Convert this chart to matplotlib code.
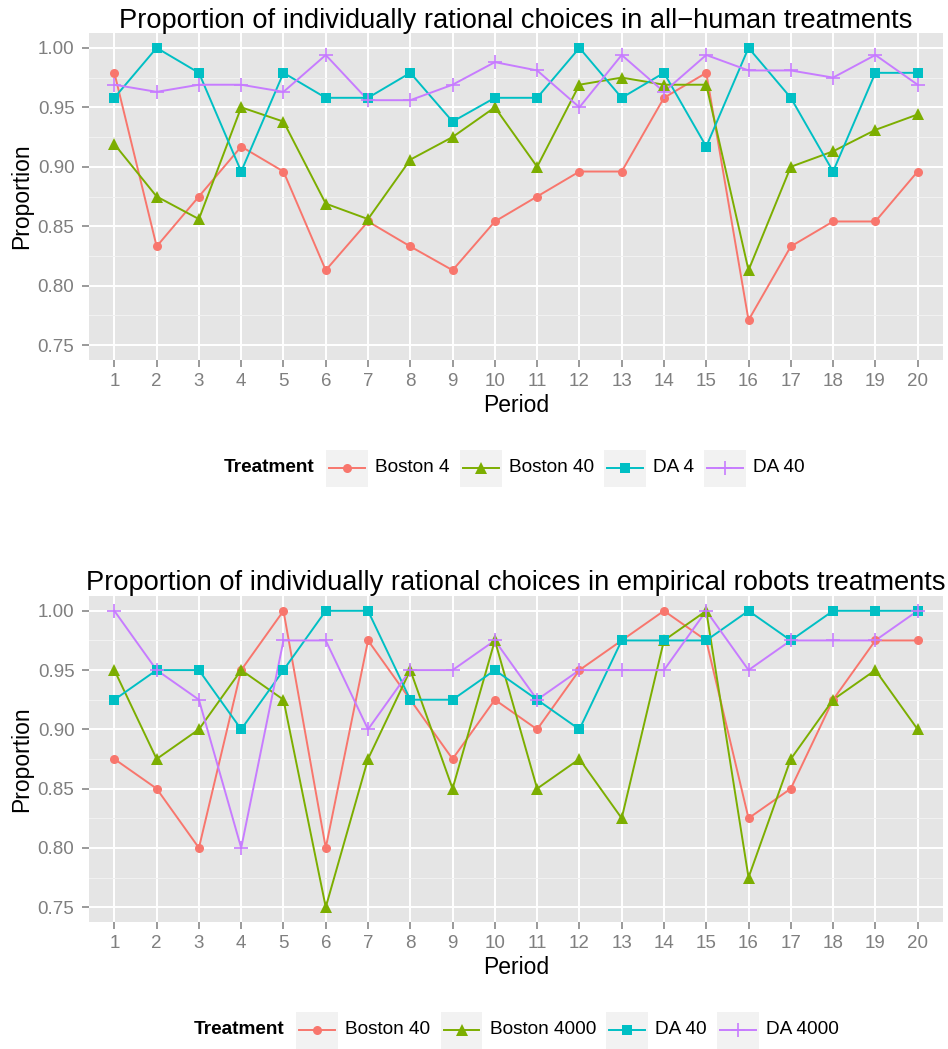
import matplotlib
matplotlib.use("Agg")
import matplotlib.pyplot as plt
from matplotlib.lines import Line2D
from matplotlib.patches import Rectangle
from matplotlib.ticker import MultipleLocator

plt.rcParams['font.family'] = ['Liberation Sans', 'DejaVu Sans']

periods = list(range(1, 21))

# ---- Panel 1: all-human treatments ----
title1 = "Proportion of individually rational choices in all\u2212human treatments"
labels1 = ["Boston 4", "Boston 40", "DA 4", "DA 40"]
boston4 = [0.979, 0.833, 0.875, 0.917, 0.896, 0.813, 0.854, 0.833, 0.813, 0.854,
           0.875, 0.896, 0.896, 0.958, 0.979, 0.771, 0.833, 0.854, 0.854, 0.896]
boston40_h = [0.919, 0.875, 0.856, 0.950, 0.938, 0.869, 0.856, 0.906, 0.925, 0.950,
              0.900, 0.969, 0.975, 0.969, 0.969, 0.813, 0.900, 0.913, 0.931, 0.944]
da4 = [0.958, 1.000, 0.979, 0.896, 0.979, 0.958, 0.958, 0.979, 0.938, 0.958,
       0.958, 1.000, 0.958, 0.979, 0.917, 1.000, 0.958, 0.896, 0.979, 0.979]
da40_h = [0.969, 0.963, 0.969, 0.969, 0.963, 0.994, 0.956, 0.956, 0.969, 0.988,
          0.981, 0.950, 0.994, 0.963, 0.994, 0.981, 0.981, 0.975, 0.994, 0.969]

# ---- Panel 2: empirical robots treatments ----
title2 = "Proportion of individually rational choices in empirical robots treatments"
labels2 = ["Boston 40", "Boston 4000", "DA 40", "DA 4000"]
boston40_r = [0.875, 0.850, 0.800, 0.950, 1.000, 0.800, 0.975, 0.925, 0.875, 0.925,
              0.900, 0.950, 0.975, 1.000, 0.975, 0.825, 0.850, 0.925, 0.975, 0.975]
boston4000 = [0.950, 0.875, 0.900, 0.950, 0.925, 0.750, 0.875, 0.950, 0.850, 0.975,
              0.850, 0.875, 0.825, 0.975, 1.000, 0.775, 0.875, 0.925, 0.950, 0.900]
da40_r = [0.925, 0.950, 0.950, 0.900, 0.950, 1.000, 1.000, 0.925, 0.925, 0.950,
          0.925, 0.900, 0.975, 0.975, 0.975, 1.000, 0.975, 1.000, 1.000, 1.000]
da4000 = [1.000, 0.950, 0.925, 0.800, 0.975, 0.975, 0.900, 0.950, 0.950, 0.975,
          0.925, 0.950, 0.950, 0.950, 1.000, 0.950, 0.975, 0.975, 0.975, 1.000]

yticks = [0.75, 0.80, 0.85, 0.90, 0.95, 1.00]

colors = ["#F8766D", "#7CAE00", "#00BFC4", "#C77CFF"]
markers = ["o", "^", "s", "+"]
msizes = [6.5, 8, 7, 10]

W, H = 948, 1049
fig = plt.figure(figsize=(W / 100, H / 100), dpi=100)


def px_rect(l, t, r, b):
    return [l / W, 1 - b / H, (r - l) / W, (b - t) / H]


GREY = "#7F7F7F"


def draw_panel(ax, title, series, height_px):
    ax.set_facecolor("#E5E5E5")
    for s in ax.spines.values():
        s.set_visible(False)
    ax.set_xlim(0.4, 20.6)
    ax.set_ylim(0.7375, 1.0125)
    ax.set_xticks(periods)
    ax.set_xticklabels([str(p) for p in periods])
    ax.set_yticks(yticks)
    ax.set_yticklabels(["%.2f" % v for v in yticks])
    ax.yaxis.set_minor_locator(MultipleLocator(0.025))
    ax.grid(True, which="major", color="white", lw=1.4, zorder=0)
    ax.grid(True, which="minor", axis="y", color="#F2F2F2", lw=0.7, zorder=0)
    ax.set_axisbelow(True)
    ax.tick_params(axis="both", which="major", colors=GREY, labelcolor=GREY,
                   labelsize=13.5, length=5, width=1.1)
    ax.tick_params(axis="x", pad=4)
    ax.tick_params(axis="y", pad=5.5)
    ax.tick_params(which="minor", length=0)
    for ys, c in zip(series, colors):
        ax.plot(periods, ys, color=c, lw=1.4, zorder=2)
    for ys, c, m, ms in zip(series, colors, markers, msizes):
        ax.plot(periods, ys, linestyle="none", marker=m, markersize=ms,
                color=c, markeredgewidth=1.2 if m == "+" else 0.0, zorder=3)
    ax.set_xlabel("Period", fontsize=16.5, va="center")
    ax.set_ylabel("Proportion", fontsize=16.5, va="center")
    ax.xaxis.set_label_coords(0.5, -45 / height_px)
    ax.yaxis.set_label_coords(-67 / 854, 0.5)
    ax.text(0.5, 1.0 + 5.5 / height_px, title, transform=ax.transAxes,
            ha="center", va="baseline", fontsize=19.6)


ax1 = fig.add_axes(px_rect(89, 33, 943, 360))
draw_panel(ax1, title1, [boston4, boston40_h, da4, da40_h], 327)

ax2 = fig.add_axes(px_rect(89, 596, 943, 922))
draw_panel(ax2, title2, [boston40_r, boston4000, da40_r, da4000], 326)

renderer = fig.canvas.get_renderer()


def draw_legend(labels, cx, cy):
    box_w, box_h = 42, 37
    tt = fig.text(0, 1 - cy / H, "Treatment", fontsize=13.7, fontweight="bold",
                  ha="left", va="center")
    texts = [fig.text(0, 1 - cy / H, lab, fontsize=13.7, ha="left", va="center")
             for lab in labels]
    tw = tt.get_window_extent(renderer).width
    ws = [t.get_window_extent(renderer).width for t in texts]
    total = tw + 12 + sum(box_w + 7 + w for w in ws) + 10 * (len(ws) - 1)
    x = cx - total / 2
    tt.set_x(x / W)
    x += tw + 12
    for i, (t, w) in enumerate(zip(texts, ws)):
        fig.add_artist(Rectangle((x / W, 1 - (cy + box_h / 2) / H), box_w / W, box_h / H,
                                 transform=fig.transFigure, facecolor="#F2F2F2",
                                 edgecolor="none"))
        fig.add_artist(Line2D([(x + 3) / W, (x + box_w - 3) / W], [1 - cy / H, 1 - cy / H],
                              transform=fig.transFigure, color=colors[i], lw=1.4))
        fig.add_artist(Line2D([(x + box_w / 2) / W], [1 - cy / H], transform=fig.transFigure,
                              linestyle="none", marker=markers[i], markersize=msizes[i],
                              color=colors[i],
                              markeredgewidth=1.2 if markers[i] == "+" else 0.0))
        x += box_w + 7
        t.set_x(x / W)
        x += w + 10


draw_legend(labels1, 514, 468)
draw_legend(labels2, 516, 1030)

fig.savefig("out.png", dpi=100)
